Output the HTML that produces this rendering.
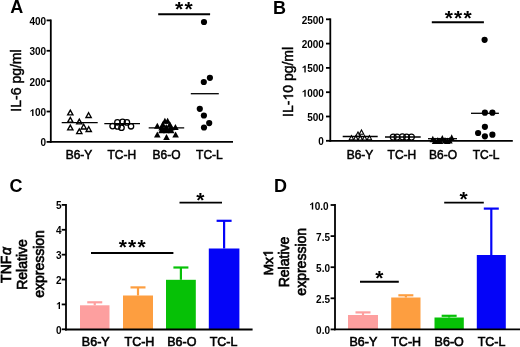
<!DOCTYPE html>
<html><head><meta charset="utf-8"><style>
html,body{margin:0;padding:0;background:#fff;}
svg{display:block;will-change:transform;}
text{font-family:"Liberation Sans", sans-serif;fill:#000;}
.o1{fill:none;stroke:none;}
</style></head><body>
<svg width="520" height="347" viewBox="0 0 520 347">
<rect width="520" height="347" fill="#fff"/>
<text x="10.3" y="12.7" font-size="18" font-weight="bold" text-anchor="start" >A</text>
<line x1="50.8" y1="19.499999999999993" x2="50.8" y2="142.8" stroke="#000" stroke-width="1.8"/>
<line x1="49.9" y1="141.9" x2="233" y2="141.9" stroke="#000" stroke-width="1.8"/>
<line x1="46.6" y1="141.9" x2="50.8" y2="141.9" stroke="#000" stroke-width="1.8"/>
<text x="46.1" y="146.4" font-size="10" font-weight="bold" text-anchor="end" >0</text>
<line x1="46.6" y1="111.525" x2="50.8" y2="111.525" stroke="#000" stroke-width="1.8"/>
<text id="t0" x="46.1" y="116.025" font-size="10" font-weight="bold" text-anchor="end" ><tspan class="o1">1</tspan>00</text>
<line x1="46.6" y1="81.15" x2="50.8" y2="81.15" stroke="#000" stroke-width="1.8"/>
<text x="46.1" y="85.65" font-size="10" font-weight="bold" text-anchor="end" >200</text>
<line x1="46.6" y1="50.775000000000006" x2="50.8" y2="50.775000000000006" stroke="#000" stroke-width="1.8"/>
<text x="46.1" y="55.275000000000006" font-size="10" font-weight="bold" text-anchor="end" >300</text>
<line x1="46.6" y1="20.39999999999999" x2="50.8" y2="20.39999999999999" stroke="#000" stroke-width="1.8"/>
<text x="46.1" y="24.89999999999999" font-size="10" font-weight="bold" text-anchor="end" >400</text>
<text transform="translate(21.1,80.5) rotate(-90)" x="0" y="0" font-size="14" font-weight="normal" text-anchor="middle" stroke="#000" stroke-width="0.45">IL-6 pg/ml</text>
<text x="79" y="158.8" font-size="12" text-anchor="middle" stroke="#000" stroke-width="0.5">B6-Y</text>
<text x="121.85" y="158.8" font-size="12" text-anchor="middle" stroke="#000" stroke-width="0.5">TC-H</text>
<text x="166.6" y="158.8" font-size="12" text-anchor="middle" stroke="#000" stroke-width="0.5">B6-O</text>
<text x="209.45" y="158.8" font-size="12" text-anchor="middle" stroke="#000" stroke-width="0.5">TC-L</text>
<line x1="158.2" y1="14.2" x2="210.1" y2="14.2" stroke="#000" stroke-width="1.9"/>
<text x="175.081" y="16.4" font-size="21" font-weight="bold" letter-spacing="1.2">**</text>
<polygon points="70.30,110.12 72.94,114.93 67.66,114.93" fill="none" stroke="#000" stroke-width="1.35"/>
<polygon points="70.30,117.31 72.94,122.12 67.66,122.12" fill="none" stroke="#000" stroke-width="1.35"/>
<polygon points="88.60,112.72 91.24,117.53 85.96,117.53" fill="none" stroke="#000" stroke-width="1.35"/>
<polygon points="79.30,119.12 81.94,123.93 76.66,123.93" fill="none" stroke="#000" stroke-width="1.35"/>
<polygon points="70.30,125.12 72.94,129.92 67.66,129.92" fill="none" stroke="#000" stroke-width="1.35"/>
<polygon points="83.70,124.22 86.34,129.02 81.06,129.02" fill="none" stroke="#000" stroke-width="1.35"/>
<polygon points="79.30,128.81 81.94,133.62 76.66,133.62" fill="none" stroke="#000" stroke-width="1.35"/>
<polygon points="88.75,126.72 91.39,131.52 86.11,131.52" fill="none" stroke="#000" stroke-width="1.35"/>
<line x1="61.7" y1="122.6" x2="97.7" y2="122.6" stroke="#000" stroke-width="1.3"/>
<circle cx="112.6" cy="126.1" r="2.7" fill="none" stroke="#000" stroke-width="1.3"/>
<circle cx="117.4" cy="122.3" r="2.7" fill="none" stroke="#000" stroke-width="1.3"/>
<circle cx="122.6" cy="121.8" r="2.7" fill="none" stroke="#000" stroke-width="1.3"/>
<circle cx="126.9" cy="122.4" r="2.7" fill="none" stroke="#000" stroke-width="1.3"/>
<circle cx="117.5" cy="126.5" r="2.7" fill="none" stroke="#000" stroke-width="1.3"/>
<circle cx="121.5" cy="127.7" r="2.7" fill="none" stroke="#000" stroke-width="1.3"/>
<circle cx="131" cy="126.3" r="2.7" fill="none" stroke="#000" stroke-width="1.3"/>
<line x1="104.3" y1="123.6" x2="140" y2="123.6" stroke="#000" stroke-width="1.3"/>
<polygon points="157.30,122.70 160.60,128.70 154.00,128.70" fill="#000"/>
<polygon points="157.30,131.50 160.60,137.50 154.00,137.50" fill="#000"/>
<polygon points="175.40,123.90 178.70,129.90 172.10,129.90" fill="#000"/>
<polygon points="175.60,131.50 178.90,137.50 172.30,137.50" fill="#000"/>
<polygon points="166.50,134.00 169.80,140.00 163.20,140.00" fill="#000"/>
<polygon points="164.90,117.80 168.20,123.80 161.60,123.80" fill="#000"/>
<polygon points="167.60,117.80 170.90,123.80 164.30,123.80" fill="#000"/>
<polygon points="162.80,121.30 166.10,127.30 159.50,127.30" fill="#000"/>
<polygon points="169.80,121.30 173.10,127.30 166.50,127.30" fill="#000"/>
<polygon points="161.60,124.50 164.90,130.50 158.30,130.50" fill="#000"/>
<polygon points="171.20,124.50 174.50,130.50 167.90,130.50" fill="#000"/>
<polygon points="163.50,127.00 166.80,133.00 160.20,133.00" fill="#000"/>
<polygon points="169.30,127.00 172.60,133.00 166.00,133.00" fill="#000"/>
<polygon points="166.20,124.00 169.50,130.00 162.90,130.00" fill="#000"/>
<polygon points="166.30,127.20 169.60,133.20 163.00,133.20" fill="#000"/>
<polygon points="161.50,127.30 164.80,133.30 158.20,133.30" fill="#000"/>
<polygon points="171.20,127.30 174.50,133.30 167.90,133.30" fill="#000"/>
<line x1="148.7" y1="127.8" x2="184.2" y2="127.8" stroke="#000" stroke-width="1.3"/>
<circle cx="204" cy="22" r="3.1" fill="#000"/>
<circle cx="209.9" cy="77.8" r="3.1" fill="#000"/>
<circle cx="203.8" cy="82" r="3.1" fill="#000"/>
<circle cx="199.8" cy="108.8" r="3.1" fill="#000"/>
<circle cx="203.9" cy="115.5" r="3.1" fill="#000"/>
<circle cx="209.2" cy="123.1" r="3.1" fill="#000"/>
<circle cx="204" cy="127.5" r="3.1" fill="#000"/>
<line x1="190.8" y1="93.7" x2="218.8" y2="93.7" stroke="#000" stroke-width="1.3"/>
<text x="273.0" y="13.6" font-size="18" font-weight="bold" text-anchor="start" >B</text>
<line x1="330.3" y1="18.400000000000013" x2="330.3" y2="141.7" stroke="#000" stroke-width="1.8"/>
<line x1="329.4" y1="140.8" x2="512.8" y2="140.8" stroke="#000" stroke-width="1.8"/>
<line x1="326" y1="140.8" x2="330.3" y2="140.8" stroke="#000" stroke-width="1.8"/>
<text x="323.9" y="145.3" font-size="10" font-weight="bold" text-anchor="end" >0</text>
<line x1="326" y1="116.50000000000001" x2="330.3" y2="116.50000000000001" stroke="#000" stroke-width="1.8"/>
<text x="323.9" y="121.00000000000001" font-size="10" font-weight="bold" text-anchor="end" >500</text>
<line x1="326" y1="92.20000000000002" x2="330.3" y2="92.20000000000002" stroke="#000" stroke-width="1.8"/>
<text id="t1" x="323.9" y="96.70000000000002" font-size="10" font-weight="bold" text-anchor="end" ><tspan class="o1">1</tspan>000</text>
<line x1="326" y1="67.90000000000002" x2="330.3" y2="67.90000000000002" stroke="#000" stroke-width="1.8"/>
<text id="t2" x="323.9" y="72.40000000000002" font-size="10" font-weight="bold" text-anchor="end" ><tspan class="o1">1</tspan>500</text>
<line x1="326" y1="43.60000000000002" x2="330.3" y2="43.60000000000002" stroke="#000" stroke-width="1.8"/>
<text x="323.9" y="48.10000000000002" font-size="10" font-weight="bold" text-anchor="end" >2000</text>
<line x1="326" y1="19.30000000000001" x2="330.3" y2="19.30000000000001" stroke="#000" stroke-width="1.8"/>
<text x="323.9" y="23.80000000000001" font-size="10" font-weight="bold" text-anchor="end" >2500</text>
<text id="t3" transform="translate(293.1,81.9) rotate(-90)" x="0" y="0" font-size="14" font-weight="normal" text-anchor="middle" stroke="#000" stroke-width="0.45">IL-<tspan class="o1">1</tspan>0 pg/ml</text>
<text x="360" y="158.8" font-size="12" text-anchor="middle" stroke="#000" stroke-width="0.5">B6-Y</text>
<text x="401.9" y="158.8" font-size="12" text-anchor="middle" stroke="#000" stroke-width="0.5">TC-H</text>
<text x="443.1" y="158.8" font-size="12" text-anchor="middle" stroke="#000" stroke-width="0.5">B6-O</text>
<text x="486" y="158.8" font-size="12" text-anchor="middle" stroke="#000" stroke-width="0.5">TC-L</text>
<line x1="431.8" y1="22.2" x2="483.9" y2="22.2" stroke="#000" stroke-width="1.9"/>
<text x="444.6465" y="25.0" font-size="21" font-weight="bold" letter-spacing="1.2">***</text>
<polygon points="361.50,129.99 363.77,134.25 359.23,134.25" fill="none" stroke="#000" stroke-width="1.1"/>
<polygon points="358.00,131.99 360.27,136.25 355.73,136.25" fill="none" stroke="#000" stroke-width="1.1"/>
<polygon points="351.40,135.59 353.67,139.85 349.12,139.85" fill="none" stroke="#000" stroke-width="1.1"/>
<polygon points="355.80,135.79 358.07,140.05 353.53,140.05" fill="none" stroke="#000" stroke-width="1.1"/>
<polygon points="360.30,135.79 362.57,140.05 358.03,140.05" fill="none" stroke="#000" stroke-width="1.1"/>
<polygon points="364.60,135.79 366.88,140.05 362.33,140.05" fill="none" stroke="#000" stroke-width="1.1"/>
<polygon points="369.40,135.59 371.67,139.85 367.12,139.85" fill="none" stroke="#000" stroke-width="1.1"/>
<line x1="342.7" y1="136.5" x2="377.7" y2="136.5" stroke="#000" stroke-width="1.3"/>
<circle cx="393.2" cy="137" r="2.95" fill="none" stroke="#000" stroke-width="1.15"/>
<circle cx="397" cy="137" r="2.95" fill="none" stroke="#000" stroke-width="1.15"/>
<circle cx="402.4" cy="136.8" r="2.95" fill="none" stroke="#000" stroke-width="1.15"/>
<circle cx="406.6" cy="137" r="2.95" fill="none" stroke="#000" stroke-width="1.15"/>
<circle cx="411.4" cy="137" r="2.95" fill="none" stroke="#000" stroke-width="1.15"/>
<line x1="385" y1="137" x2="420.7" y2="137" stroke="#000" stroke-width="1.3"/>
<polygon points="432.80,135.70 436.00,142.30 429.60,142.30" fill="#000"/>
<polygon points="437.80,137.00 441.00,143.60 434.60,143.60" fill="#000"/>
<polygon points="442.30,135.00 445.50,141.60 439.10,141.60" fill="#000"/>
<polygon points="447.20,137.40 450.40,144.00 444.00,144.00" fill="#000"/>
<polygon points="451.70,134.30 454.90,140.90 448.50,140.90" fill="#000"/>
<polygon points="440.00,137.50 443.20,144.10 436.80,144.10" fill="#000"/>
<polygon points="445.00,137.00 448.20,143.60 441.80,143.60" fill="#000"/>
<polygon points="435.00,137.50 438.20,144.10 431.80,144.10" fill="#000"/>
<polygon points="449.50,137.00 452.70,143.60 446.30,143.60" fill="#000"/>
<line x1="428" y1="138.7" x2="457" y2="138.7" stroke="#000" stroke-width="1.3"/>
<circle cx="484.6" cy="39.8" r="3.1" fill="#000"/>
<circle cx="484.9" cy="112.7" r="3.1" fill="#000"/>
<circle cx="492.4" cy="112.7" r="3.1" fill="#000"/>
<circle cx="484.9" cy="126.8" r="3.1" fill="#000"/>
<circle cx="478.1" cy="133" r="3.1" fill="#000"/>
<circle cx="484.9" cy="136.3" r="3.1" fill="#000"/>
<circle cx="492.4" cy="134.7" r="3.1" fill="#000"/>
<line x1="471" y1="113.3" x2="498.9" y2="113.3" stroke="#000" stroke-width="1.3"/>
<text x="9.5" y="192.3" font-size="18" font-weight="bold" text-anchor="start" >C</text>
<rect x="80" y="305.3" width="29.5" height="24.0" fill="#fd9f9f"/>
<line x1="94.75" y1="305.3" x2="94.75" y2="302.3" stroke="#fd9f9f" stroke-width="2.2"/>
<line x1="87.25" y1="302.3" x2="102.25" y2="302.3" stroke="#fd9f9f" stroke-width="2.2"/>
<rect x="123" y="295.5" width="30" height="33.80000000000001" fill="#fd9e40"/>
<line x1="138.0" y1="295.5" x2="138.0" y2="287.4" stroke="#fd9e40" stroke-width="2.2"/>
<line x1="130.5" y1="287.4" x2="145.5" y2="287.4" stroke="#fd9e40" stroke-width="2.2"/>
<rect x="166" y="279.8" width="29.80000000000001" height="49.5" fill="#06c106"/>
<line x1="180.9" y1="279.8" x2="180.9" y2="267.5" stroke="#06c106" stroke-width="2.2"/>
<line x1="173.4" y1="267.5" x2="188.4" y2="267.5" stroke="#06c106" stroke-width="2.2"/>
<rect x="208.8" y="248.5" width="30.599999999999994" height="80.80000000000001" fill="#0404f8"/>
<line x1="224.10000000000002" y1="248.5" x2="224.10000000000002" y2="220.8" stroke="#0404f8" stroke-width="2.2"/>
<line x1="216.60000000000002" y1="220.8" x2="231.60000000000002" y2="220.8" stroke="#0404f8" stroke-width="2.2"/>
<line x1="66" y1="204.00000000000003" x2="66" y2="330.4" stroke="#000" stroke-width="1.8"/>
<line x1="65.1" y1="329.5" x2="252.6" y2="329.5" stroke="#000" stroke-width="1.8"/>
<line x1="61.7" y1="329.3" x2="66" y2="329.3" stroke="#000" stroke-width="1.8"/>
<text x="61.5" y="333.8" font-size="10" font-weight="bold" text-anchor="end" >0</text>
<line x1="61.7" y1="304.42" x2="66" y2="304.42" stroke="#000" stroke-width="1.8"/>
<text id="t4" x="61.5" y="308.92" font-size="10" font-weight="bold" text-anchor="end" ><tspan class="o1">1</tspan></text>
<line x1="61.7" y1="279.54" x2="66" y2="279.54" stroke="#000" stroke-width="1.8"/>
<text x="61.5" y="284.04" font-size="10" font-weight="bold" text-anchor="end" >2</text>
<line x1="61.7" y1="254.66000000000003" x2="66" y2="254.66000000000003" stroke="#000" stroke-width="1.8"/>
<text x="61.5" y="259.16" font-size="10" font-weight="bold" text-anchor="end" >3</text>
<line x1="61.7" y1="229.78000000000003" x2="66" y2="229.78000000000003" stroke="#000" stroke-width="1.8"/>
<text x="61.5" y="234.28000000000003" font-size="10" font-weight="bold" text-anchor="end" >4</text>
<line x1="61.7" y1="204.90000000000003" x2="66" y2="204.90000000000003" stroke="#000" stroke-width="1.8"/>
<text x="61.5" y="209.40000000000003" font-size="10" font-weight="bold" text-anchor="end" >5</text>
<text transform="translate(10.5,265) rotate(-90)" x="0" y="0" font-size="14" font-weight="normal" text-anchor="middle" stroke="#000" stroke-width="0.7">TNF<tspan font-style="italic" dx="0.6">&#945;</tspan></text>
<text transform="translate(27.4,264.5) rotate(-90)" x="0" y="0" font-size="14" font-weight="normal" text-anchor="middle" stroke="#000" stroke-width="0.65">Relative</text>
<text transform="translate(44.2,264) rotate(-90)" x="0" y="0" font-size="14" font-weight="normal" text-anchor="middle" stroke="#000" stroke-width="0.65">expression</text>
<text x="95.75" y="346.4" font-size="12.5" text-anchor="middle" stroke="#000" stroke-width="0.6">B6-Y</text>
<text x="139.45" y="346.4" font-size="12.5" text-anchor="middle" stroke="#000" stroke-width="0.6">TC-H</text>
<text x="181.8" y="346.4" font-size="12.5" text-anchor="middle" stroke="#000" stroke-width="0.6">B6-O</text>
<text x="223.6" y="346.4" font-size="12.5" text-anchor="middle" stroke="#000" stroke-width="0.6">TC-L</text>
<line x1="91" y1="253.0" x2="173.4" y2="253.0" stroke="#000" stroke-width="1.9"/>
<text x="118.64649999999999" y="254.4" font-size="21" font-weight="bold" letter-spacing="1.2">***</text>
<line x1="179.5" y1="202.6" x2="222" y2="202.6" stroke="#000" stroke-width="1.9"/>
<text x="196.3655" y="206.6" font-size="21" font-weight="bold" letter-spacing="1.2">*</text>
<text x="274.0" y="192.0" font-size="18" font-weight="bold" text-anchor="start" >D</text>
<rect x="348" y="315" width="30" height="14.399999999999977" fill="#fd9f9f"/>
<line x1="363.0" y1="315" x2="363.0" y2="312.4" stroke="#fd9f9f" stroke-width="2.2"/>
<line x1="355.5" y1="312.4" x2="370.5" y2="312.4" stroke="#fd9f9f" stroke-width="2.2"/>
<rect x="391.2" y="297.5" width="29.30000000000001" height="31.899999999999977" fill="#fd9e40"/>
<line x1="405.85" y1="297.5" x2="405.85" y2="295.3" stroke="#fd9e40" stroke-width="2.2"/>
<line x1="398.35" y1="295.3" x2="413.35" y2="295.3" stroke="#fd9e40" stroke-width="2.2"/>
<rect x="434.5" y="317.5" width="29.30000000000001" height="11.899999999999977" fill="#06c106"/>
<line x1="449.15" y1="317.5" x2="449.15" y2="315.8" stroke="#06c106" stroke-width="2.2"/>
<line x1="441.65" y1="315.8" x2="456.65" y2="315.8" stroke="#06c106" stroke-width="2.2"/>
<rect x="476.8" y="255" width="29.0" height="74.39999999999998" fill="#0404f8"/>
<line x1="491.3" y1="255" x2="491.3" y2="208.6" stroke="#0404f8" stroke-width="2.2"/>
<line x1="483.8" y1="208.6" x2="498.8" y2="208.6" stroke="#0404f8" stroke-width="2.2"/>
<line x1="335" y1="204.1" x2="335" y2="330.3" stroke="#000" stroke-width="1.8"/>
<line x1="334.1" y1="329.4" x2="520" y2="329.4" stroke="#000" stroke-width="1.8"/>
<line x1="330.6" y1="329.4" x2="335" y2="329.4" stroke="#000" stroke-width="1.8"/>
<text x="330" y="333.9" font-size="10" font-weight="bold" text-anchor="end" >0.0</text>
<line x1="330.6" y1="298.29999999999995" x2="335" y2="298.29999999999995" stroke="#000" stroke-width="1.8"/>
<text x="330" y="302.79999999999995" font-size="10" font-weight="bold" text-anchor="end" >2.5</text>
<line x1="330.6" y1="267.2" x2="335" y2="267.2" stroke="#000" stroke-width="1.8"/>
<text x="330" y="271.7" font-size="10" font-weight="bold" text-anchor="end" >5.0</text>
<line x1="330.6" y1="236.09999999999997" x2="335" y2="236.09999999999997" stroke="#000" stroke-width="1.8"/>
<text x="330" y="240.59999999999997" font-size="10" font-weight="bold" text-anchor="end" >7.5</text>
<line x1="330.6" y1="205.0" x2="335" y2="205.0" stroke="#000" stroke-width="1.8"/>
<text id="t5" x="328.6" y="209.5" font-size="10" font-weight="bold" text-anchor="end" ><tspan class="o1">1</tspan>0.0</text>
<text id="t6" transform="translate(272.7,262.5) rotate(-90)" x="0" y="0" font-size="13.5" font-weight="normal" text-anchor="middle" stroke="#000" stroke-width="0.7">Mx<tspan class="o1">1</tspan></text>
<text transform="translate(289.4,262) rotate(-90)" x="0" y="0" font-size="14" font-weight="normal" text-anchor="middle" stroke="#000" stroke-width="0.65">Relative</text>
<text transform="translate(306.2,261.8) rotate(-90)" x="0" y="0" font-size="14" font-weight="normal" text-anchor="middle" stroke="#000" stroke-width="0.65">expression</text>
<text x="363.35" y="346.4" font-size="12.5" text-anchor="middle" stroke="#000" stroke-width="0.6">B6-Y</text>
<text x="406.15" y="346.4" font-size="12.5" text-anchor="middle" stroke="#000" stroke-width="0.6">TC-H</text>
<text x="449.2" y="346.4" font-size="12.5" text-anchor="middle" stroke="#000" stroke-width="0.6">B6-O</text>
<text x="491.6" y="346.4" font-size="12.5" text-anchor="middle" stroke="#000" stroke-width="0.6">TC-L</text>
<line x1="360" y1="281.8" x2="398.8" y2="281.8" stroke="#000" stroke-width="1.9"/>
<text x="375.1655" y="285.4" font-size="21" font-weight="bold" letter-spacing="1.2">*</text>
<line x1="444.2" y1="202.6" x2="483.8" y2="202.6" stroke="#000" stroke-width="1.9"/>
<text x="459.4655" y="206.4" font-size="21" font-weight="bold" letter-spacing="1.2">*</text>
<path transform=" translate(29.412,116.025) scale(0.004883,-0.004883)" d="M834 0H553V1059Q400 915 190 846V1101Q300 1137 429 1237T606 1409H834Z" fill="#000"/>
<path transform=" translate(301.650,96.700) scale(0.004883,-0.004883)" d="M834 0H553V1059Q400 915 190 846V1101Q300 1137 429 1237T606 1409H834Z" fill="#000"/>
<path transform=" translate(301.650,72.400) scale(0.004883,-0.004883)" d="M834 0H553V1059Q400 915 190 846V1101Q300 1137 429 1237T606 1409H834Z" fill="#000"/>
<path transform="translate(293.1,81.9) rotate(-90) translate(-18.688,0.000) scale(0.006836,-0.006836)" d="M763 0H583V1147Q518 1085 412 1023T223 930V1104Q374 1175 487 1276T648 1409H763Z" fill="#000" stroke="#000" stroke-width="65.8"/>
<path transform=" translate(55.938,308.920) scale(0.004883,-0.004883)" d="M834 0H553V1059Q400 915 190 846V1101Q300 1137 429 1237T606 1409H834Z" fill="#000"/>
<path transform=" translate(309.131,209.500) scale(0.004883,-0.004883)" d="M834 0H553V1059Q400 915 190 846V1101Q300 1137 429 1237T606 1409H834Z" fill="#000"/>
<path transform="translate(272.7,262.5) rotate(-90) translate(5.242,0.000) scale(0.006592,-0.006592)" d="M763 0H583V1147Q518 1085 412 1023T223 930V1104Q374 1175 487 1276T648 1409H763Z" fill="#000" stroke="#000" stroke-width="106.2"/>
</svg>
</body></html>
